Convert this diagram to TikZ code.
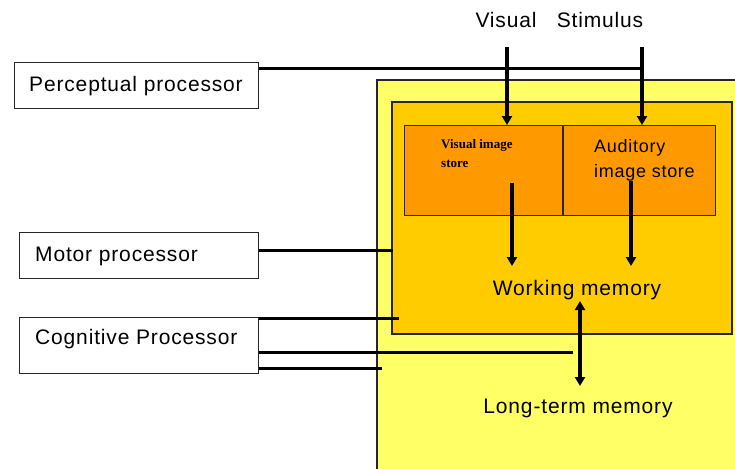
\documentclass[tikz,border=0pt]{standalone}
\usepackage{fontspec}
\setmainfont{Liberation Sans}[LetterSpace=4]
\newfontfamily\tinyserif{Liberation Serif}
\usetikzlibrary{arrows.meta}
\definecolor{ltyellow}{HTML}{FFFF66}
\definecolor{midorange}{HTML}{FFCC00}
\definecolor{darkorange}{HTML}{FF9900}
\tikzset{
  procbox/.style={draw=black!85, line width=1.3pt, fill=white, inner sep=0pt, anchor=north west},
  lbl/.style={font=\fontsize{21}{23}\selectfont, inner sep=0pt},
  conn/.style={line width=3pt, black},
  arr/.style={line width=3.5pt, black, -{Triangle[width=10pt,length=9pt]}},
  darr/.style={line width=3.5pt, black, {Triangle[width=10pt,length=9pt]}-{Triangle[width=10pt,length=9pt]}},
  region/.style={draw=black!85, line width=1.3pt}
}
\begin{document}
\begin{tikzpicture}[x=1pt,y=-1pt]
\useasboundingbox (0,0) rectangle (735,468);
\clip (0,0) rectangle (735,468);
\fill[white] (0,0) rectangle (735,468);
% regions
\filldraw[region, fill=ltyellow] (377,80) rectangle (745,480);
\filldraw[region, fill=midorange] (392,102) rectangle (732,334);
\node[region, fill=darkorange, anchor=north west, minimum width=311pt, minimum height=90pt, inner sep=0pt] (stores) at (404,125) {};
\draw[line width=1.3pt, black!85] (563,125) -- (563,215);
\coordinate (vistop) at (507,125);
\coordinate (audtop) at (642,125);
% store labels
\node[font=\tinyserif\fontsize{13}{19}\selectfont\bfseries, align=left, anchor=north west, inner sep=0pt] (vis) at (441,139) {Visual image\\store};
\node[lbl, align=left, anchor=north west, font=\fontsize{18}{25}\selectfont] (aud) at (594,139) {Auditory\\image store};
% processors
\node[procbox, minimum width=244pt, minimum height=46pt] (perc) at (14,62) {};
\node[lbl, anchor=west] at (29,86) {Perceptual processor};
\node[procbox, minimum width=239pt, minimum height=46pt] (motor) at (19,232) {};
\node[lbl, anchor=west] at (35,256) {Motor processor};
\node[procbox, minimum width=239pt, minimum height=56pt] (cog) at (19,317) {};
\node[lbl, anchor=west] at (35,339) {Cognitive Processor};
% stimulus
\node[lbl] (visual) at (506,20) {Visual};
\node[lbl] (stim) at (600,20) {Stimulus};
\coordinate (vs) at (507,47);
\coordinate (ss) at (642,47);
\draw[arr] (vs) -- (vistop);
\draw[arr] (ss) -- (audtop);
% connectors
\coordinate (pj) at (642,69);
\draw[conn] (perc.east |- 0,69) -- (pj);
\coordinate (mj) at (393,250);
\draw[conn] (motor.east |- 0,250) -- (mj);
\coordinate (c1) at (399,318);
\coordinate (c2) at (573,352);
\coordinate (c3) at (382,368);
\draw[conn] (cog.east |- 0,318) -- (c1);
\draw[conn] (cog.east |- 0,352) -- (c2);
\draw[conn] (cog.east |- 0,368) -- (c3);
% working memory
\node[lbl] (wm) at (577,290) {Working memory};
\node[lbl] (ltm) at (578,408) {Long-term memory};
\coordinate (va) at (512,183);
\coordinate (aa) at (631,181);
\draw[arr] (va) -- (512,266);
\draw[arr] (aa) -- (631,266);
\draw[darr] (580,301) -- (580,386);
\end{tikzpicture}
\end{document}
